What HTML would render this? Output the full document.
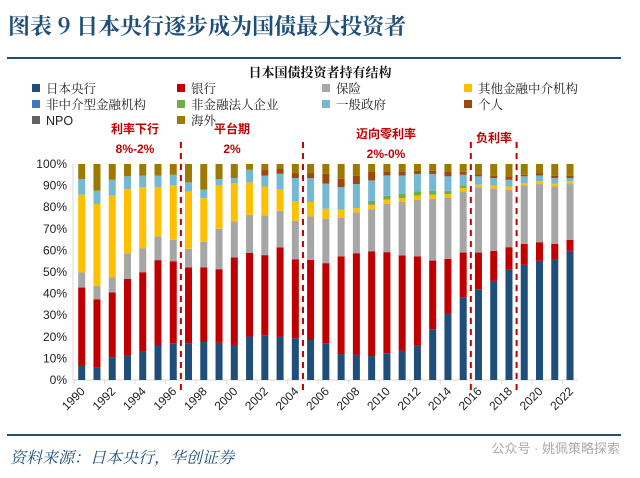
<!DOCTYPE html>
<html><head><meta charset="utf-8"><style>
body{margin:0;width:640px;height:473px;background:#fff;overflow:hidden;font-family:"Liberation Sans","Noto Sans CJK SC",sans-serif;}
</style></head><body>
<svg width="640" height="473" xmlns="http://www.w3.org/2000/svg">
<text x="8" y="34" font-size="22" font-weight="bold" fill="#1f4e79" font-family="'Noto Serif CJK SC','Liberation Serif',serif">图表 9  日本央行逐步成为国债最大投资者</text>
<line x1="7" y1="58" x2="621" y2="58" stroke="#1f4e79" stroke-width="2"/>
<text x="320" y="77" font-size="13" font-weight="bold" text-anchor="middle" fill="#111" font-family="'Noto Serif CJK SC',serif">日本国债投资者持有结构</text>
<g id="legend"></g>
<g id="ann" font-weight="bold" fill="#c00000" font-size="12" text-anchor="middle">
<text x="135" y="133">利率下行</text>
<text x="135" y="153">8%-2%</text>
<text x="232" y="133">平台期</text>
<text x="232" y="153">2%</text>
<text x="386" y="138">迈向零利率</text>
<text x="386" y="158">2%-0%</text>
<text x="494" y="142">负利率</text>
</g>
<g id="plot"></g>
<line x1="7" y1="435" x2="621" y2="435" stroke="#1f4e79" stroke-width="2"/>
<text x="10" y="463" font-size="16" font-style="italic" fill="#1f4e79" font-family="'Noto Serif CJK SC',serif">资料来源：日本央行，华创证券</text>
<text x="620" y="453" font-size="13" fill="#aaa" text-anchor="end">公众号 · 姚佩策略探索</text>
</svg>
<script>
const years=[];for(let y=1990;y<=2022;y++)years.push(y);
const boj=[6.5,5.7,10.5,11.3,13.4,16.2,17.0,17.0,17.6,17.2,16.2,20.1,20.7,20.1,19.3,18.5,17.0,12.0,11.6,11.1,12.4,13.6,15.8,23.5,30.8,38.3,42.0,45.9,51.0,53.3,55.2,55.6,59.8];
const bank=[36.3,31.7,30.0,35.5,36.5,39.3,38.0,35.1,34.5,34.1,40.5,38.8,37.1,41.3,36.6,37.1,37.1,45.2,47.1,48.4,46.8,44.1,41.4,31.8,25.3,20.7,17.0,13.9,10.5,9.7,8.6,7.4,5.1];
const insurance=[7.0,6.2,7.1,11.9,11.0,11.0,9.9,8.6,11.9,18.7,16.7,17.6,18.4,17.0,17.8,20.1,20.6,17.8,18.9,19.6,22.4,24.7,26.3,28.6,28.4,28.3,30.2,28.8,26.6,27.1,26.9,26.6,25.8];
const otherFin=[36.0,37.9,37.7,29.7,28.3,22.7,25.2,26.5,20.2,20.1,17.8,15.0,13.4,9.7,9.0,6.7,4.6,3.8,2.0,2.0,1.9,1.8,1.8,1.9,1.6,1.6,1.2,1.4,1.5,1.1,1.3,1.3,1.3];
const nonIntermediary=[0,0,0,0,0,0,0,0,0,0,0,0,0,0,0,0,0,0,0,0,0,0,0,0,0,0,0,0,0,0,0,0,0];
const nonFinCorp=[0,0,0,0,0,0,0,0,0,0,0,0,0,0,0,0,0,0,0,1.9,1.8,1.9,2.0,1.8,1.5,1.1,0,0,0,0,0,0,0];
const govt=[7.2,6.1,7.4,5.9,5.4,5.4,4.9,4.3,3.9,2.9,2.3,5.9,5.0,7.4,10.8,11.1,11.6,10.5,11.1,9.4,9.4,8.6,8.1,7.8,6.7,5.0,3.9,3.5,3.1,3.1,2.7,2.6,1.5];
const individual=[0,0,0,0,0,0,0,0,0,0,0,0,2.8,2.5,2.3,2.3,4.6,3.9,3.9,3.9,1.9,1.9,1.5,1.5,2.0,1.4,0.9,1.1,1.6,0.7,1.1,1.1,1.1];
const npo=[0,0,0,0,0,0,0,0,0,0,0,0,0,0,0,0,0,0,0,0,0,0,0,0,0,0,0,0,0,0,0,0,0];
const overseas=[7.0,12.4,7.3,5.7,5.4,5.4,5.0,8.5,11.9,7.0,6.5,2.6,2.6,2.0,4.2,4.2,4.5,6.8,5.4,3.7,3.4,3.4,3.1,3.1,3.7,3.6,4.8,5.4,5.7,5.0,4.2,5.4,5.4];
const yTicks=[0,10,20,30,40,50,60,70,80,90,100];
const dividerYears=[1996.5,2004.5,2015.5,2018.5];

const NS='http://www.w3.org/2000/svg';
const series=[
 {n:'日本央行',c:'#1f4e79',d:boj,k:'boj'},
 {n:'银行',c:'#c00000',d:bank,k:'bank'},
 {n:'保险',c:'#a6a6a6',d:insurance,k:'insurance'},
 {n:'其他金融中介机构',c:'#ffc000',d:otherFin,k:'other-fin'},
 {n:'非中介型金融机构',c:'#4472c4',d:nonIntermediary,k:'non-intermediary'},
 {n:'非金融法人企业',c:'#70ad47',d:nonFinCorp,k:'nonfin-corp'},
 {n:'一般政府',c:'#75b8d4',d:govt,k:'govt'},
 {n:'个人',c:'#9e480e',d:individual,k:'individual'},
 {n:'NPO',c:'#636363',d:npo,k:'npo'},
 {n:'海外',c:'#9c7a00',d:overseas,k:'overseas'}];
const X0=81.7,DX=15.26,Y0=380,Y1=164,BW=7;
const xs=i=>X0+i*DX;
const xy=yr=>X0+(yr-1990)*DX;
const ys=v=>Y0-(Y0-Y1)*v/100;
function el(t,a,p){const e=document.createElementNS(NS,t);for(const k in a)e.setAttribute(k,a[k]);p.appendChild(e);return e;}
const plot=document.getElementById('plot');
const ax=el('line',{x1:73,y1:Y0,x2:73,y2:Y1,stroke:'#d9d9d9'},plot);


const bx=el('line',{x1:73,y1:Y0,x2:578,y2:Y0,stroke:'#d9d9d9'},plot);


yTicks.forEach(t=>{
 const tx=el('text',{x:67,y:ys(t)+4,'font-size':12,'text-anchor':'end',fill:'#222'},plot);
 tx.textContent=t+'%';
 
 
});
years.forEach((yr,i)=>{
 let acc=0;
 series.forEach(s=>{
  const v=s.d[i];
  if(v>0){
   const r=el('rect',{x:xs(i)-BW/2,y:ys(acc+v),width:BW,height:ys(acc)-ys(acc+v),fill:s.c},plot);
   
   
  }
  acc+=v;
 });
 if(i%2==0){
  const tk=el('line',{x1:xs(i)-DX/2,y1:Y0,x2:xs(i)-DX/2,y2:Y0+4,stroke:'#d9d9d9'},plot);
  
  
  const tx=el('text',{x:xs(i)+4,y:Y0+12,'font-size':12,'text-anchor':'end',fill:'#222',transform:`rotate(-45 ${xs(i)+4} ${Y0+12})`},plot);
  tx.textContent=yr;
  
  
 }
});
dividerYears.forEach(d=>{
 const l=el('line',{x1:xy(d),y1:142,x2:xy(d),y2:392,stroke:'#c00000','stroke-width':2,'stroke-dasharray':'6,5'},plot);
 
 
});
const lg=document.getElementById('legend');
const cols=[32,177,322,464],rows=[93,109,125];
series.forEach((s,i)=>{
 const cx=cols[i%4],cy=rows[Math.floor(i/4)];
 const g=el('g',{},lg);
 
 
 el('rect',{x:cx,y:cy-9,width:8,height:8,fill:s.c},g);
 const t=el('text',{x:cx+14,y:cy,'font-size':12.5,fill:'#222','font-family':"'Liberation Sans','Noto Serif CJK SC',serif"},g);
 t.textContent=s.n;
});
</script>
</body></html>
